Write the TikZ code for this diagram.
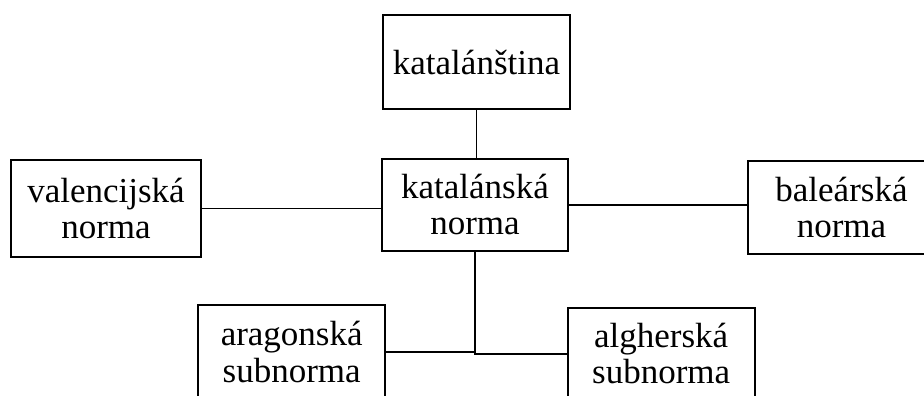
\documentclass[tikz,border=0pt]{standalone}
\usepackage{fontspec}
\setmainfont{Liberation Serif}

\tikzset{
  normbox/.style={draw=black, line width=1.8pt, align=center, inner sep=0pt,
    minimum width=187pt, minimum height=94pt,
    font=\fontsize{35}{36}\selectfont},
  link/.style={black, line width=1.8pt}
}

\begin{document}
\begin{tikzpicture}[x=1pt,y=-1pt]

  \useasboundingbox (0,0) rectangle (924,396);
  \clip (0,0) rectangle (924,396);

% BOXES
  \node[normbox] (cat)  at (476.5,  62.0) {katalánština};
  \node[normbox, minimum width=186pt, minimum height=92pt] (norm) at (475.0, 205.0) {katalánská\\norma};
  \node[normbox, minimum width=190pt, minimum height=97pt] (val)  at (106.0, 208.5) {valencijská\\norma};
  \node[normbox, minimum height=93pt] (bal)  at (841.5, 207.5) {baleárská\\norma};
  \node[normbox] (arag) at (291.7, 352.0) {aragonská\\subnorma};
  \node[normbox, minimum height=92pt] (algh) at (661.2, 354.0) {algherská\\subnorma};

% LINKS
  \draw[link] (cat.south) -- (cat.south |- norm.north);
  \draw[link] (val.east) -- (val.east -| norm.west);
  \draw[link] (norm.east) -- (norm.east -| bal.west);
  \draw[link] (norm.south) |- (arag.east);
  \draw[link] (norm.south) |- (algh.west);

\end{tikzpicture}
\end{document}
